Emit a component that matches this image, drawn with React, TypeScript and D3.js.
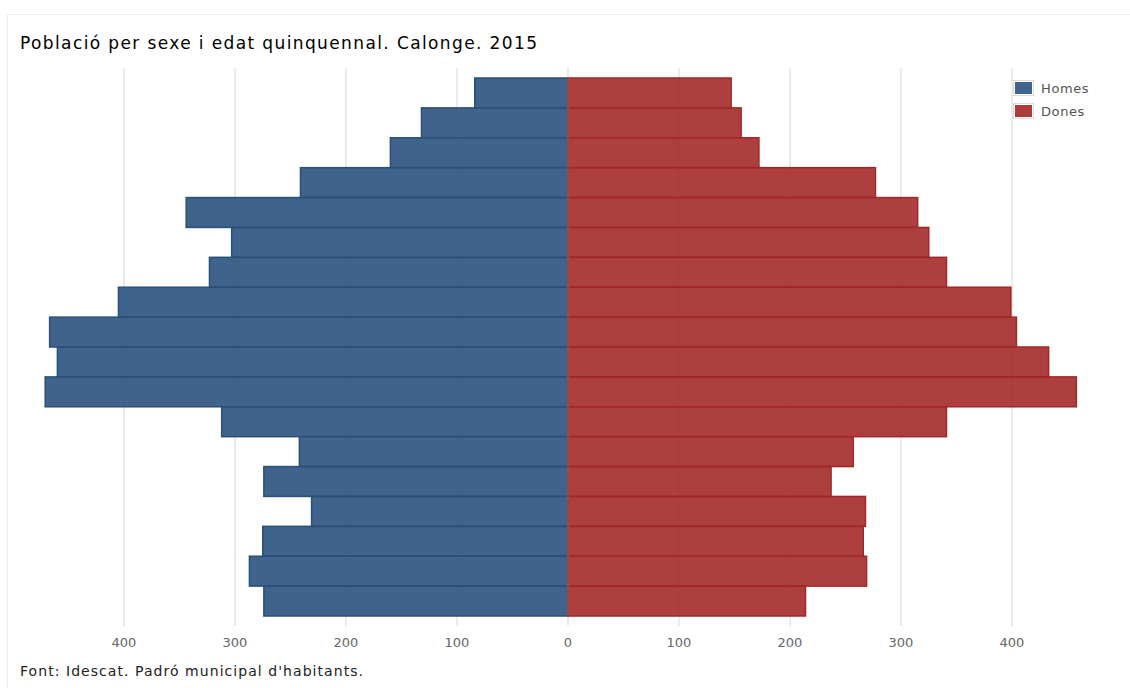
import { useEffect, useRef } from "react";
import * as d3 from "d3";

// age groups, oldest at top
const ageGroups = [
  "85+", "80-84", "75-79", "70-74", "65-69", "60-64", "55-59", "50-54", "45-49",
  "40-44", "35-39", "30-34", "25-29", "20-24", "15-19", "10-14", "5-9", "0-4",
];
const homes = [84, 132, 160, 241, 344, 303, 323, 405, 467, 460, 471, 312, 242, 274, 231, 275, 287, 274];
const dones = [147, 156, 172, 277, 315, 325, 341, 399, 404, 433, 458, 341, 257, 237, 268, 266, 269, 214];
const tickValues = [-400, -300, -200, -100, 0, 100, 200, 300, 400];
const seriesNames = ["Homes", "Dones"];

const title = "Població per sexe i edat quinquennal. Calonge. 2015";
const source = "Font: Idescat. Padró municipal d'habitants.";

export default function App() {
  const svgRef = useRef<SVGSVGElement>(null);

  useEffect(() => {
    if (!svgRef.current) return;
    const svg = d3.select(svgRef.current);
    svg.selectAll("*").remove();

    const width = 1130;
    const height = 688;
    const font = "'DejaVu Sans', Verdana, sans-serif";

    const x = d3.scaleLinear().domain([-500, 500]).range([13, 1123]);
    const y = d3.scaleBand().domain(ageGroups).range([78, 616]).padding(0);

    // outer frame
    svg
      .append("rect")
      .attr("x", 7.5)
      .attr("y", 14.5)
      .attr("width", width)
      .attr("height", height)
      .attr("fill", "#fff")
      .attr("stroke", "#ececec");

    // grid lines
    svg
      .append("g")
      .selectAll("line")
      .data(tickValues)
      .enter()
      .append("line")
      .attr("x1", d => x(d))
      .attr("x2", d => x(d))
      .attr("y1", 68)
      .attr("y2", 626)
      .attr("stroke", "#e3e3e3")
      .attr("stroke-width", 1.5);

    // men bars (left)
    svg
      .append("g")
      .selectAll("rect")
      .data(homes)
      .enter()
      .append("rect")
      .attr("x", d => x(-d))
      .attr("y", (_, i) => y(ageGroups[i]) as number)
      .attr("width", d => x(0) - x(-d))
      .attr("height", y.bandwidth())
      .attr("fill", "#2f5680")
      .attr("fill-opacity", 0.92)
      .attr("stroke", "#2c4f78")
      .attr("stroke-width", 1.5);

    // women bars (right)
    svg
      .append("g")
      .selectAll("rect")
      .data(dones)
      .enter()
      .append("rect")
      .attr("x", x(0))
      .attr("y", (_, i) => y(ageGroups[i]) as number)
      .attr("width", d => x(d) - x(0))
      .attr("height", y.bandwidth())
      .attr("fill", "#a52a2a")
      .attr("fill-opacity", 0.9)
      .attr("stroke", "#a1282a")
      .attr("stroke-width", 1.5);

    // zero line
    svg
      .append("line")
      .attr("x1", x(0))
      .attr("x2", x(0))
      .attr("y1", 78)
      .attr("y2", 616)
      .attr("stroke", "#8a8a9a")
      .attr("stroke-opacity", 0.6)
      .attr("stroke-width", 1);

    // tick labels
    svg
      .append("g")
      .selectAll("text")
      .data(tickValues)
      .enter()
      .append("text")
      .attr("x", d => x(d))
      .attr("y", 647)
      .attr("text-anchor", "middle")
      .attr("font-family", font)
      .attr("font-size", "13px")
      .attr("fill", "#666")
      .text(d => d3.format("d")(Math.abs(d)));

    // legend
    const legendColors = ["#2f5680", "#a52a2a"];
    const legend = svg.append("g").attr("transform", "translate(1013, 80)");
    seriesNames.forEach((name, i) => {
      const g = legend.append("g").attr("transform", `translate(0, ${i * 23})`);
      g.append("rect")
        .attr("x", 0.5)
        .attr("y", 0.5)
        .attr("width", 20)
        .attr("height", 15)
        .attr("fill", "#fff")
        .attr("stroke", "#ddd");
      g.append("rect")
        .attr("x", 2)
        .attr("y", 2)
        .attr("width", 17)
        .attr("height", 12)
        .attr("fill", legendColors[i])
        .attr("fill-opacity", 0.92);
      g.append("text")
        .attr("x", 28)
        .attr("y", 13)
        .attr("font-family", font)
        .attr("font-size", "13px")
        .attr("letter-spacing", "0.6px")
        .attr("fill", "#555")
        .text(name);
    });

    // title
    svg
      .append("text")
      .attr("x", 20)
      .attr("y", 49)
      .attr("font-family", font)
      .attr("font-size", "17px")
      .attr("fill", "#000")
      .attr("textLength", 517)
      .attr("lengthAdjust", "spacing")
      .text(title);

    // source
    svg
      .append("text")
      .attr("x", 20)
      .attr("y", 676)
      .attr("font-family", font)
      .attr("font-size", "14px")
      .attr("fill", "#222")
      .attr("textLength", 343)
      .attr("lengthAdjust", "spacing")
      .text(source);
  }, []);

  return (
    <div style={{ position: "absolute", left: 0, top: 0, width: 1130, height: 688, overflow: "hidden", background: "#fff" }}>
      <svg ref={svgRef} width={1130} height={688} viewBox="0 0 1130 688" />
    </div>
  );
}
